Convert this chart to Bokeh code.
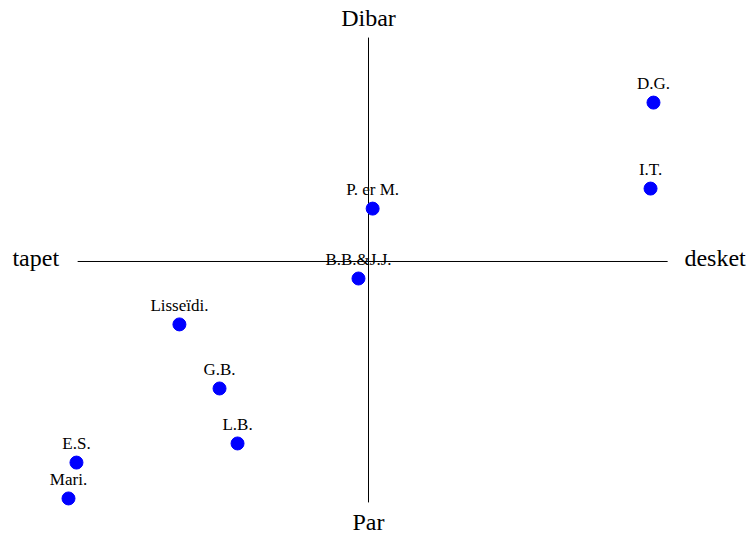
from bokeh.plotting import figure
from bokeh.models import ColumnDataSource, Range1d
from bokeh.core.properties import value
from bokeh.embed import file_html
from bokeh.resources import INLINE

names = ["D.G.", "I.T.", "P. er M.", "B.B.&J.J.", "Lisseïdi.", "G.B.", "L.B.", "E.S.", "Mari."]
xs = [0.966, 0.956, 0.014, -0.034, -0.641, -0.505, -0.444, -0.990, -1.017]
ys = [0.682, 0.313, 0.227, -0.073, -0.270, -0.545, -0.781, -0.863, -1.017]

h_axis_x = [-0.986, 1.014]
v_axis_y = [-1.034, 0.961]

axis_names = ["tapet", "desket", "Dibar", "Par"]
axis_x = [-1.207, 1.071, 0.0, 0.0]
axis_y = [0.017, 0.013, 1.047, -1.120]
axis_align = ["left", "left", "center", "center"]

FONT = value("Liberation Serif")

p = figure(width=747, height=535, output_backend="svg", toolbar_location=None,
           x_range=Range1d(-1.2475, 1.2847), y_range=Range1d(-1.176, 1.1202),
           min_border=0)
p.axis.visible = False
p.grid.visible = False
p.outline_line_color = None

p.line(h_axis_x, [0, 0], line_color="black", line_width=1)
p.line([0, 0], v_axis_y, line_color="black", line_width=1)

src = ColumnDataSource(dict(x=xs, y=ys, name=names))
p.scatter("x", "y", source=src, size=13, fill_color="blue", line_color="blue")
p.text("x", "y", text="name", source=src, text_font=FONT, text_font_size="17px",
       text_align="center", text_baseline="middle", y_offset=-19, text_color="black")

asrc = ColumnDataSource(dict(x=axis_x, y=axis_y, t=axis_names, a=axis_align))
p.text("x", "y", text="t", source=asrc, text_font=FONT, text_font_size="24px",
       text_align="a", text_baseline="middle", text_color="black")

open("out.html", "w").write(file_html(p, INLINE))
